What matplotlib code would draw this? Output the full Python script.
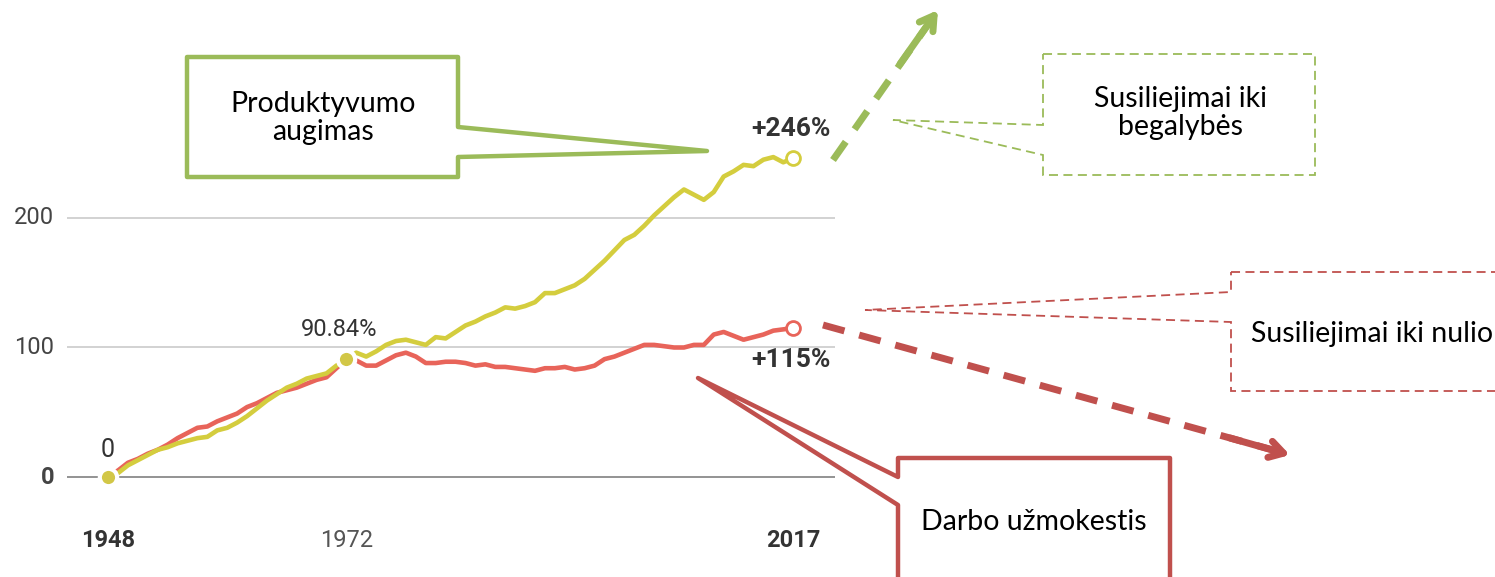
import numpy as np
import matplotlib.pyplot as plt
from matplotlib.patches import Polygon

# metai ir dvi eilutės (procentinis pokytis nuo 1948)
years = np.arange(1948, 2018)
productivity = [0, 3, 9, 13, 17, 21, 23, 26, 28, 30,
                31, 36, 38, 42, 47, 53, 59, 64, 69, 72,
                76, 78, 80, 86, 90.84, 96, 93, 97, 102, 105,
                106, 104, 102, 108, 107, 112, 117, 120, 124, 127,
                131, 130, 132, 135, 142, 142, 145, 148, 153, 160,
                167, 175, 183, 187, 194, 202, 209, 216, 222, 218,
                214, 220, 232, 236, 241, 240, 245, 247, 243, 246]
wages = [1, 5, 11, 14, 18, 21, 25, 30, 34, 38,
         39, 43, 46, 49, 54, 57, 61, 65, 67, 69,
         72, 75, 77, 84, 90.84, 90, 86, 86, 90, 94,
         96, 93, 88, 88, 89, 89, 88, 86, 87, 85,
         85, 84, 83, 82, 84, 84, 85, 83, 84, 86,
         91, 93, 96, 99, 102, 102, 101, 100, 100, 102,
         102, 110, 112, 109, 106, 108, 110, 113, 114, 115]
y_ticks = [0, 100, 200]
x_labels = [1948, 1972, 2017]

YEL = '#D4CD3E'
DOT = '#D2C747'
RED = '#E8645A'
GREEN = '#9BBB59'
DRED = '#C0504D'
TXT = '#333333'

fig = plt.figure(figsize=(14.95, 5.77), dpi=100)
ax = fig.add_axes([0, 0, 1, 1])
ax.set_xlim(1937.12, 2087.68)
ax.set_ylim(-77.2, 368.3)
ax.axis('off')

# tinklelis
ax.hlines([100, 200], 1943.9, 2021.2, color='#cfcfcf', lw=1.3, zorder=1)
ax.hlines(0, 1943.9, 2021.2, color='#8a8a8a', lw=1.3, zorder=1)
for v in y_ticks:
    ax.text(1942.6, v, str(v), ha='right', va='center', fontsize=17,
            color='#444444', family='Roboto',
            fontweight='bold' if v == 0 else 'normal')
for yr in x_labels:
    ax.text(yr, -49, str(yr), ha='center', va='center', fontsize=17,
            color=TXT if yr != 1972 else '#555555', family='Roboto',
            fontweight='normal' if yr == 1972 else 'bold')

# linijos: dvi dalys, perskirtos ties 1972
i72 = 1972 - 1948
for vals, c in [(wages, RED), (productivity, YEL)]:
    ax.plot(years[:i72 + 1], vals[:i72 + 1], color=c, lw=3.3, zorder=3,
            solid_capstyle='round')
    ax.plot(years[i72:], vals[i72:], color=c, lw=3.3, zorder=3,
            solid_capstyle='round')

ax.plot([1948, 1972], [0, 90.84], 'o', ms=12.5, color=DOT, mec='white',
        mew=3, zorder=5, ls='none')
ax.plot([2017], [productivity[-1]], 'o', ms=10, mfc='white', mec=YEL, mew=2, zorder=5)
ax.plot([2017], [wages[-1]], 'o', ms=10, mfc='white', mec=RED, mew=2, zorder=5)

ax.text(1948, 21, '0', ha='center', va='center', fontsize=18, color=TXT, family='Roboto')
ax.text(1971.3, 114, '90.84%', ha='center', va='center', fontsize=17, color=TXT, family='Roboto')
ax.text(2016.8, 269, '+246%', ha='center', va='center', fontsize=19, color=TXT,
        family='Roboto', fontweight='bold')
ax.text(2016.8, 90, '+115%', ha='center', va='center', fontsize=19, color=TXT,
        family='Roboto', fontweight='bold')

# anotacijos pikseliais
ov = fig.add_axes([0, 0, 1, 1])
ov.set_xlim(0, 1495)
ov.set_ylim(577, 0)
ov.axis('off')
ov.patch.set_alpha(0)

green_box = [(187, 57), (458, 57), (458, 127), (707, 151), (458, 157),
             (458, 177), (187, 177)]
ov.add_patch(Polygon(green_box, closed=True, fc='white', ec=GREEN, lw=3.2,
                     joinstyle='round'))
ov.text(323, 118, 'Produktyvumo\naugimas', ha='center', va='center',
        fontsize=20.5, family='Lato', linespacing=1.1)

red_box = [(898, 458), (1170, 458), (1170, 600), (898, 600), (898, 505),
           (698, 378), (898, 477)]
ov.add_patch(Polygon(red_box, closed=True, fc='white', ec=DRED, lw=3.2,
                     joinstyle='round'))
ov.text(1034, 522, 'Darbo užmokestis', ha='center', va='center',
        fontsize=20.5, family='Lato')

g_dash = [(1043, 54), (1315, 54), (1315, 175), (1043, 175), (1043, 155),
          (893, 120), (1043, 125)]
ov.add_patch(Polygon(g_dash, closed=True, fc='none', ec=GREEN, lw=1.3,
                     ls=(0, (5, 3))))
ov.text(1180, 113, 'Susiliejimai iki\nbegalybės', ha='center', va='center',
        fontsize=20.5, family='Lato', linespacing=1.1)

r_dash = [(1231, 272), (1510, 272), (1510, 391), (1231, 391), (1231, 322),
          (865, 310), (1231, 292)]
ov.add_patch(Polygon(r_dash, closed=True, fc='none', ec=DRED, lw=1.3,
                     ls=(0, (5, 3))))
ov.text(1251, 334, 'Susiliejimai iki nulio', ha='left', va='center',
        fontsize=20.5, family='Lato')

# punktyrinės rodyklės
ov.plot([833, 934], [160, 16], color=GREEN, lw=5, ls=(0, (3.2, 2.2)))
ov.annotate('', xy=(938, 10), xytext=(900, 64),
            arrowprops=dict(arrowstyle='->, head_length=1.0, head_width=0.6',
                            color=GREEN, lw=5, shrinkA=0, shrinkB=0))
ov.plot([823, 1284], [325, 453], color=DRED, lw=5, ls=(0, (3.2, 2.2)))
ov.annotate('', xy=(1290, 455), xytext=(1230, 438),
            arrowprops=dict(arrowstyle='->, head_length=1.0, head_width=0.6',
                            color=DRED, lw=5, shrinkA=0, shrinkB=0))

fig.savefig('out.png', dpi=100)
